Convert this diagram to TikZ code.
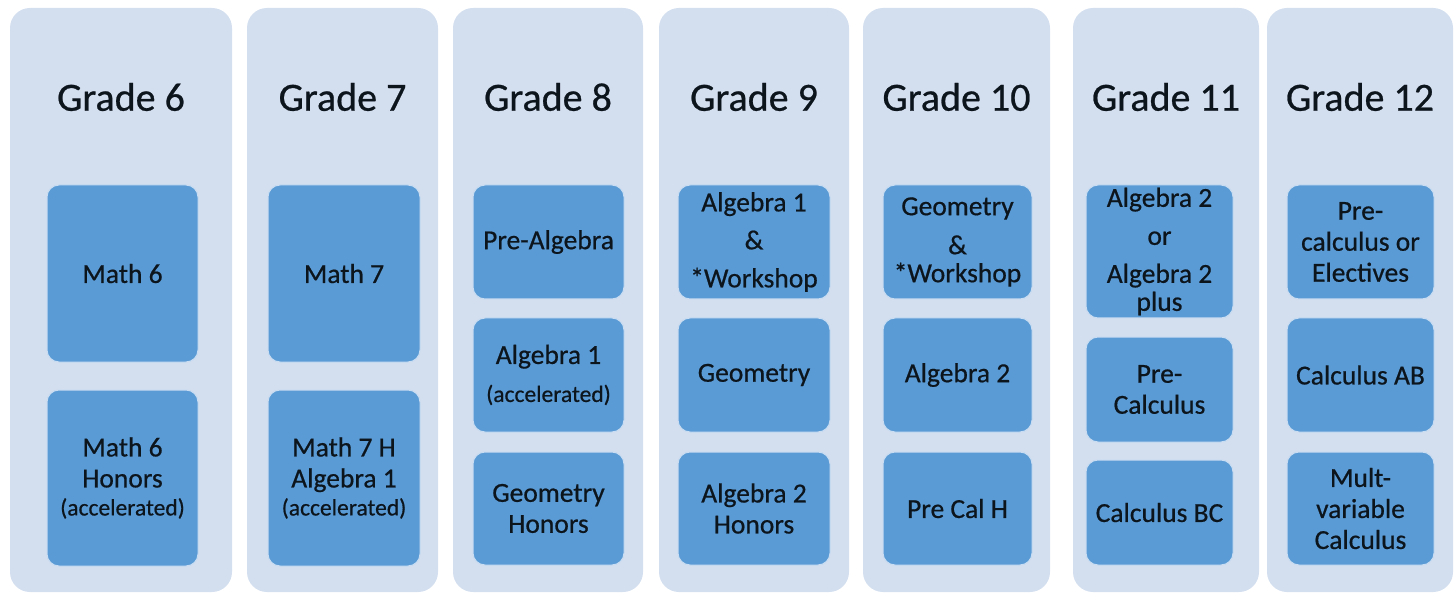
\documentclass[tikz,border=0pt]{standalone}
\usepackage{fontspec}
\setmainfont{Carlito}[FakeBold=0.6]
\definecolor{colbg}{HTML}{D3DEEF}
\definecolor{boxbg}{HTML}{5B9BD5}
\definecolor{boxrim}{HTML}{C9DDF2}
\definecolor{ink}{HTML}{0C141C}
\tikzset{
  grade/.style={fill=colbg, rounded corners=20pt, inner sep=0pt, outer sep=0pt},
  title/.style={text=ink, font=\fontsize{40}{46}\selectfont},
  course/.style={fill=boxbg, draw=boxrim, line width=1pt, rounded corners=12pt,
    inner sep=0pt, outer sep=0pt, align=center, text=ink,
    font=\fontsize{27.5}{31}\selectfont}
}
\newcommand{\accel}{{\fontsize{23.5}{28}\selectfont(accelerated)}}
\begin{document}
\begin{tikzpicture}[x=1pt,y=-1pt]
\useasboundingbox (0,0) rectangle (1455,593);

% grade columns
\node[grade, minimum width=222pt, minimum height=584pt] (g6) at (121,300) {};
\node[grade, minimum width=191pt, minimum height=584pt] (g7) at (342.5,300) {};
\node[grade, minimum width=190pt, minimum height=584pt] (g8) at (548,300) {};
\node[grade, minimum width=190pt, minimum height=584pt] (g9) at (754,300) {};
\node[grade, minimum width=187pt, minimum height=584pt] (g10) at (956.5,300) {};
\node[grade, minimum width=186pt, minimum height=584pt] (g11) at (1166,300) {};
\node[grade, minimum width=186pt, minimum height=584pt] (g12) at (1360,300) {};

% titles
\node[title] (t6) at (121,97) {Grade 6};
\node[title] (t7) at (342.5,97) {Grade 7};
\node[title] (t8) at (548,97) {Grade 8};
\node[title] (t9) at (754,97) {Grade 9};
\node[title] (t10) at (956.5,97) {Grade 10};
\node[title] (t11) at (1166,97) {Grade 11};
\node[title] (t12) at (1360,97) {Grade 12};

% grade 6
\node[course, minimum width=151pt, minimum height=177pt] (m6) at (122.5,273.5) {Math 6};
\node[course, minimum width=151pt, minimum height=176pt] (m6h) at (122.5,478)
  {Math 6\\Honors\\[-3pt]\accel};

% grade 7
\node[course, minimum width=152pt, minimum height=177pt] (m7) at (344,273.5) {Math 7};
\node[course, minimum width=152pt, minimum height=176pt] (m7h) at (344,478)
  {Math 7 H\\Algebra 1\\[-3pt]\accel};

% grade 8
\node[course, minimum width=151pt, minimum height=114pt] (pa8) at (548.5,242) {Pre-Algebra};
\node[course, minimum width=151pt, minimum height=114pt] (a8) at (548.5,375)
  {Algebra 1\\[7pt]\accel};
\node[course, minimum width=151pt, minimum height=113pt] (gh8) at (548.5,508.5) {Geometry\\Honors};

% grade 9
\node[course, minimum width=152pt, minimum height=114pt] (a9) at (754,242)
  {Algebra 1\\[7pt]\&\\[7pt]*Workshop};
\node[course, minimum width=152pt, minimum height=114pt] (ge9) at (754,375) {Geometry};
\node[course, minimum width=152pt, minimum height=113pt] (ah9) at (754,508.5) {Algebra 2\\Honors};

% grade 10
\node[course, minimum width=149pt, minimum height=114pt] (ge10) at (957.5,242)
  {Geometry\\[8pt]\&\\[-3pt]*Workshop};
\node[course, minimum width=149pt, minimum height=114pt] (a10) at (957.5,375) {Algebra 2};
\node[course, minimum width=149pt, minimum height=113pt] (pc10) at (957.5,508.5) {Pre Cal H};

% grade 11
\node[course, minimum width=147pt, minimum height=133pt] (a11) at (1159.5,251.5)
  {Algebra 2\\[7pt]or\\[7pt]Algebra 2\\[-3pt]plus};
\node[course, minimum width=147pt, minimum height=105pt] (pc11) at (1159.5,389.5) {Pre-\\Calculus};
\node[course, minimum width=147pt, minimum height=105pt] (bc11) at (1159.5,512.5) {Calculus BC};

% grade 12
\node[course, minimum width=147pt, minimum height=114pt] (pc12) at (1360.5,242)
  {Pre-\\calculus or\\Electives};
\node[course, minimum width=147pt, minimum height=114pt] (ab12) at (1360.5,375) {Calculus AB};
\node[course, minimum width=147pt, minimum height=113pt] (mv12) at (1360.5,508.5)
  {Mult-\\variable\\Calculus};
\end{tikzpicture}
\end{document}
